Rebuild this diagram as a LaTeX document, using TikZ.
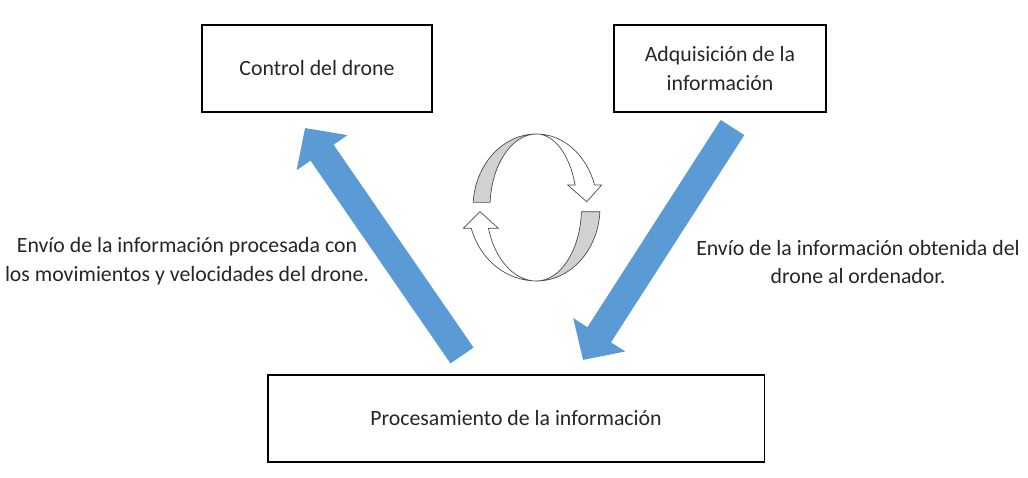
\documentclass[tikz,border=0pt]{standalone}
\usepackage{fontspec}
\setmainfont{Carlito}
\usetikzlibrary{arrows.meta}
\definecolor{azulflecha}{HTML}{5B9BD5}
\definecolor{texto}{HTML}{262626}
\tikzset{
  caja/.style={draw=black, line width=0.8pt, minimum height=2.175cm, align=center, text=texto},
  envio/.style={draw=azulflecha, line width=0.7cm, -{Triangle[width=1.5cm,length=0.75cm]}},
  etiqueta/.style={align=center, text=texto},
  ciclo/.style={draw=black!70, line width=0.5pt}
}

\begin{document}
\begin{tikzpicture}[x=0.025cm, y=0.025cm, font=\fontsize{15.5}{20.5}\selectfont]
        \useasboundingbox (0,0) rectangle (1028,478);

        \node[caja, minimum width=5.75cm] (control) at (317,409.5) {Control del drone};
        \node[caja, minimum width=5.3cm] (adq) at (720,409.5) {Adquisición de la\\información};
        \node[caja, minimum width=12.4cm] (proc) at (516,59.5) {Procesamiento de la información};

        \coordinate (ctrlin) at (305,350);
        \coordinate (procout) at (462,122.5);
        \coordinate (adqout) at (732.5,350.5);
        \coordinate (procin) at (583,118);

        \draw[envio] (procout) -- (ctrlin);
        \draw[envio] (adqout) -- (procin);

        \node[etiqueta] (txtizq) at (187,217) {Envío de la información procesada con\\los movimientos y velocidades del drone.};
        \node[etiqueta] (txtder) at (858,216) {Envío de la información obtenida del\\drone al ordenador.};

        \begin{scope}[shift={(536.5,270.5)}]
          \draw[ciclo, fill=black!18] (176:63.5 and 73.5) arc[start angle=176, end angle=90, x radius=63.5, y radius=73.5]
            arc[start angle=90, end angle=176, x radius=46.5, y radius=73.5] -- cycle;
          \draw[ciclo, fill=white] (0,73.5) arc[start angle=90, end angle=17.8, x radius=61, y radius=73.5]
            -- (65.2,22.5) -- (50.2,5.8) -- (31.2,22.5) -- (38.6,22.5)
            arc[start angle=17.8, end angle=90, x radius=40.5, y radius=73.5] -- cycle;
          \draw[ciclo, fill=black!18] (-3.3:63.5 and 73.5) arc[start angle=-3.3, end angle=-90, x radius=63.5, y radius=73.5]
            arc[start angle=-90, end angle=-3.3, x radius=45, y radius=73.5] -- cycle;
          \draw[ciclo, fill=white] (0,-73.5) arc[start angle=270, end angle=196.4, x radius=68, y radius=73.5]
            -- (-73.2,-20.8) -- (-56.5,-4.2) -- (-38.2,-20.8) -- (-48,-20.8)
            arc[start angle=196.4, end angle=270, x radius=50, y radius=73.5] -- cycle;
        \end{scope}
      \end{tikzpicture}
\end{document}
